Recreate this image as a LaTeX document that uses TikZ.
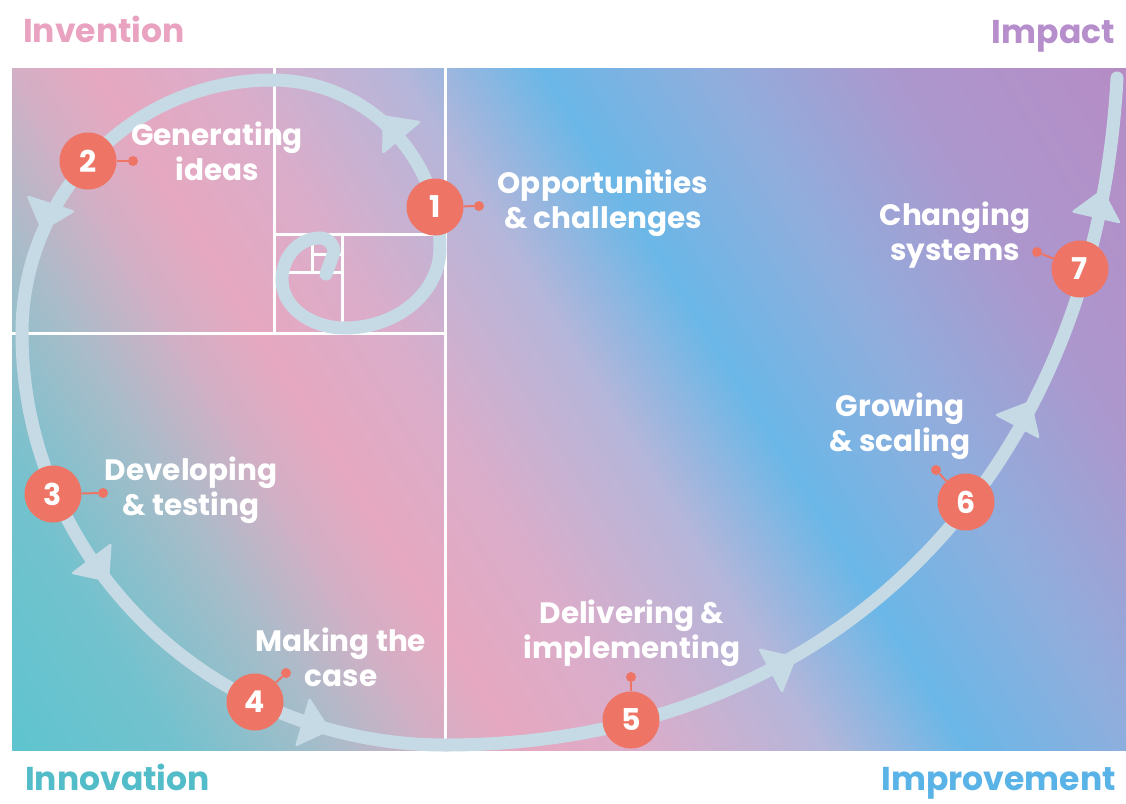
\documentclass[tikz,border=0pt]{standalone}
\usepackage{fontspec}
\setmainfont{Poppins}
\definecolor{cS1}{HTML}{5EC4CF}
\definecolor{cS2}{HTML}{72C2CE}
\definecolor{cS3}{HTML}{A8BCC9}
\definecolor{cS4}{HTML}{D3AFC5}
\definecolor{cS5}{HTML}{E6A8C0}
\definecolor{cS6}{HTML}{DAADCA}
\definecolor{cS7}{HTML}{B4B6DA}
\definecolor{cS8}{HTML}{6AB7E7}
\definecolor{cS9}{HTML}{8FAEDD}
\definecolor{cS10}{HTML}{AC97CD}
\definecolor{cS11}{HTML}{B68CC5}
\definecolor{spiralc}{HTML}{C6DAE6}
\definecolor{badgec}{HTML}{EE7565}
\definecolor{invc}{HTML}{E9A3C0}
\definecolor{impc}{HTML}{B68ECB}
\definecolor{innc}{HTML}{52BCC8}
\definecolor{imprc}{HTML}{5AB3E6}
\pgfdeclarehorizontalshading{bgshade}{100bp}{color(0bp)=(cS1); color(25bp)=(cS1); color(30.38bp)=(cS2); color(35.36bp)=(cS3); color(38.8bp)=(cS4); color(41.49bp)=(cS5); color(45.7bp)=(cS6); color(51.44bp)=(cS7); color(56.03bp)=(cS8); color(61.39bp)=(cS9); color(67.51bp)=(cS10); color(75bp)=(cS11); color(100bp)=(cS11)}
\begin{document}
\begin{tikzpicture}[x=1pt,y=-1pt,
  lbl/.style={text=white, font=\bfseries\fontsize{29.5}{35}\selectfont, align=center, inner sep=0pt, anchor=north},
  badge/.style={circle, fill=badgec, minimum size=57pt, inner sep=0pt, text=white, font=\bfseries\fontsize{30}{30}\selectfont},
  dotc/.style={circle, fill=badgec, minimum size=10pt, inner sep=0pt},
  link/.style={draw=badgec, line width=2pt},
  gridline/.style={draw=white, line width=3pt},
  spiralline/.style={draw=spiralc, line width=13pt, line cap=round},
  arrowtip/.style={fill=spiralc, rounded corners=3pt},
  head/.style={font=\bfseries\fontsize{33}{33}\selectfont, inner sep=0pt}
]
\useasboundingbox (0,0) rectangle (1126,803);
\fill[white] (0,0) rectangle (1126,803);
% background gradient
\begin{scope}
  \clip (12,68) rectangle (1126,750);
  \begin{scope}[transform canvas={rotate around={32:(569,409)}}]
    \shade[shading=bgshade] (-84,-191) rectangle (1222,1009);
  \end{scope}
\end{scope}
% golden rectangle grid
\draw[gridline] (445,68) -- (445,750);
\draw[gridline] (12,333) -- (445,333);
\draw[gridline] (274,68) -- (274,333);
\draw[gridline] (274,234) -- (445,234);
\draw[gridline] (342,234) -- (342,333);
\draw[gridline] (274,272) -- (342,272);
\draw[gridline] (312,234) -- (312,272);
\draw[gridline] (312,254) -- (342,254);
% spiral
\draw[spiralline] (326,274) -- (334,252)
  .. controls (334,244.3) and (327.7,238) .. (320,238)
  .. controls (299,238) and (282,256.8) .. (282,280)
  .. controls (282,306.5) and (310.2,328) .. (345,328)
  .. controls (397.5,328) and (440,292.2) .. (440,248)
  .. controls (440,155.2) and (364.8,80) .. (272,80)
  .. controls (133.9,80) and (22,193.3) .. (22,333)
  .. controls (22,560.5) and (211.4,745) .. (445,745)
  .. controls (830,745) and (1095,480) .. (1117,78);
% arrowheads
\foreach \px/\py/\ang in {402/138/130, 51/203/-108, 91/558/-53, 302/722/-16, 770/671/28, 1017/427/62, 1096/218/77}
  \fill[arrowtip, shift={(\px,\py)}, rotate=\ang] (0,-26) -- (30,0) -- (0,26) -- cycle;
% badges with dots
\node[badge] (b1) at (435,207) {1};
\node[badge] (b2) at (88,161) {2};
\node[badge] (b3) at (53,494) {3};
\node[badge] (b4) at (255,702) {4};
\node[badge] (b5) at (631,720) {5};
\node[badge] (b6) at (966,502) {6};
\node[badge] (b7) at (1080,269) {7};
\node[dotc] (d1) at (479,206) {};
\node[dotc] (d2) at (133,161) {};
\node[dotc] (d3) at (103,493) {};
\node[dotc] (d4) at (286,673) {};
\node[dotc] (d5) at (631,677) {};
\node[dotc] (d6) at (936,470) {};
\node[dotc] (d7) at (1037,252) {};
\foreach \i in {1,...,7} \draw[link] (b\i) -- (d\i);
% labels
\node[lbl] (l1) at (603,170) {Opportunities\\\& challenges};
\node[lbl] (l2) at (217,122) {Generating\\ideas};
\node[lbl] (l3) at (191,457) {Developing\\\& testing};
\node[lbl] (l4) at (341,628) {Making the\\case};
\node[lbl] (l5) at (632,600) {Delivering \&\\implementing};
\node[lbl] (l6) at (900,393) {Growing\\\& scaling};
\node[lbl] (l7) at (955,202) {Changing\\systems};
% corner headings
\node[head, text=invc, anchor=base west] (hinv) at (23,42) {Invention};
\node[head, text=impc, anchor=base east] (himp) at (1115,43) {Impact};
\node[head, text=innc, anchor=base west] (hinn) at (25,790) {Innovation};
\node[head, text=imprc, anchor=base east] (himpr) at (1116,790) {Improvement};
\end{tikzpicture}
\end{document}
